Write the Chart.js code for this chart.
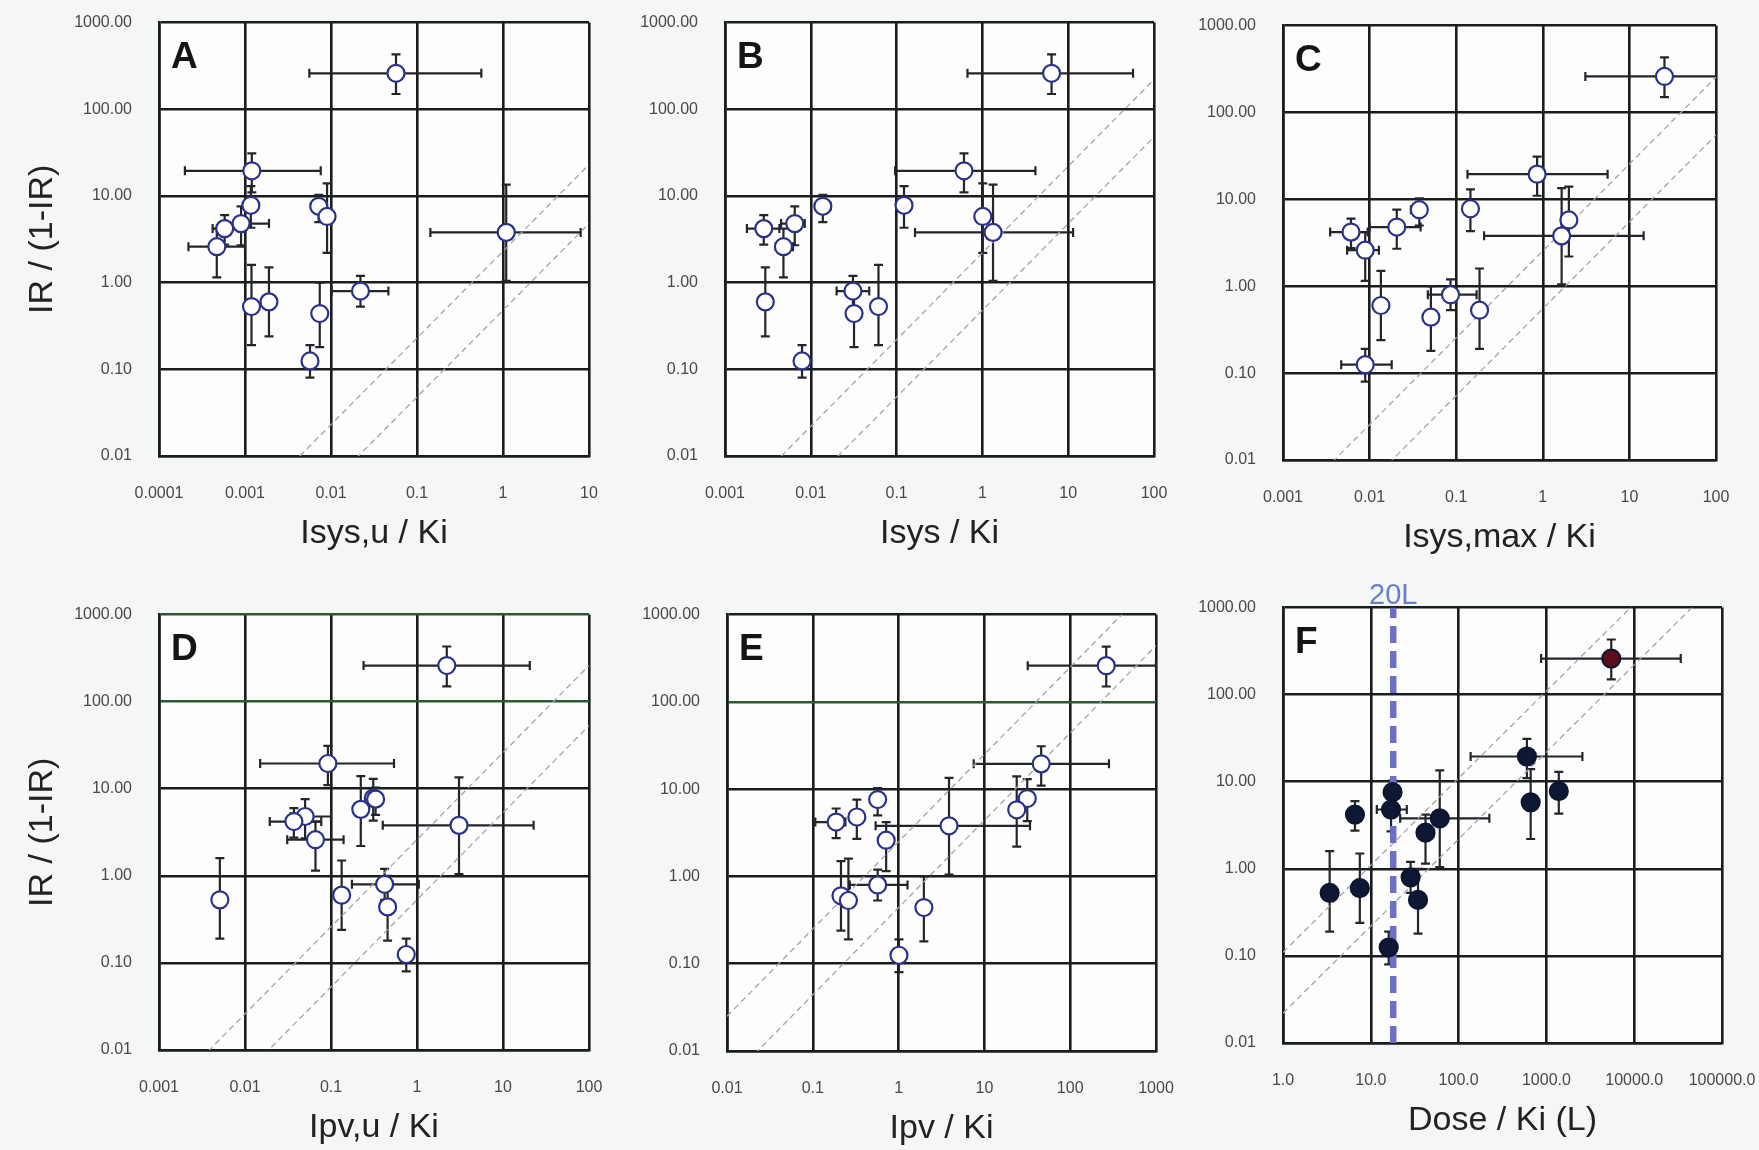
<!DOCTYPE html>
<html>
<head>
<meta charset="utf-8">
<script src="https://cdn.jsdelivr.net/npm/chart.js@4.4.1/dist/chart.umd.min.js"></script>
<style>
  html, body { margin: 0; padding: 0; background: #f5f6f6; }
  #page { position: relative; width: 1759px; height: 1150px; overflow: hidden; }
  .panel { position: absolute; }
</style>
</head>
<body>
<div id="page"></div>
<script>
// IR / (1-IR) for the 14 compounds, same in every panel
const irRatio = [260, 19.5, 7.8, 7.6, 5.8, 4.8, 4.2, 3.8, 2.6, 0.8, 0.6, 0.53, 0.44, 0.125];
const irLow   = [150, 11, 4.3, 5.0, 2.2, 2.7, 2.75, 1.05, 1.15, 0.53, 0.24, 0.19, 0.18, 0.08];
const irHigh  = [430, 31, 13, 10.3, 14, 7.6, 6.0, 13.5, 4.2, 1.2, 1.5, 1.6, 1.0, 0.19];

const yTickValues = [0.01, 0.1, 1, 10, 100, 1000];
const yTickLabels = ['0.01', '0.10', '1.00', '10.00', '100.00', '1000.00'];

const xTicksA = [0.0001, 0.001, 0.01, 0.1, 1, 10];
const xLabelsA = ['0.0001', '0.001', '0.01', '0.1', '1', '10'];
const xTicksBCD = [0.001, 0.01, 0.1, 1, 10, 100];
const xLabelsBCD = ['0.001', '0.01', '0.1', '1', '10', '100'];
const xTicksE = [0.01, 0.1, 1, 10, 100, 1000];
const xLabelsE = ['0.01', '0.1', '1', '10', '100', '1000'];
const xTicksF = [1, 10, 100, 1000, 10000, 100000];
const xLabelsF = ['1.0', '10.0', '100.0', '1000.0', '10000.0', '100000.0'];

// A: Isys,u / Ki
const xA     = [0.057, 0.0012, 0.00117, 0.0072, 0.009, 0.0009, 0.00058, 1.09, 0.00047, 0.022, 0.0019, 0.00119, 0.0074, 0.0057];
const xLowA  = [0.0056, 0.0002, null, null, null, 0.0006, 0.00042, 0.143, 0.00022, 0.0102, null, null, null, null];
const xHighA = [0.56, 0.0076, null, null, null, 0.0019, 0.00085, 8.0, 0.001, 0.0465, null, null, null, null];
// B: Isys / Ki
const xB     = [6.4, 0.61, 0.122, 0.0138, 1.01, 0.0065, 0.00283, 1.33, 0.0048, 0.031, 0.00295, 0.0615, 0.0319, 0.0079];
const xLowB  = [0.67, 0.096, null, 0.012, null, 0.0045, 0.0018, 0.164, 0.0039, 0.02, null, null, null, null];
const xHighB = [57, 4.15, null, 0.017, null, 0.0085, 0.0043, 11.4, 0.0062, 0.048, null, null, null, null];
// C: Isys,max / Ki
const xC     = [25.4, 0.86, 0.146, 0.0375, 2.0, 0.0206, 0.0061, 1.65, 0.0089, 0.086, 0.0135, 0.186, 0.051, 0.0089];
const xLowC  = [3.1, 0.135, null, 0.03, null, 0.01, 0.0035, 0.21, 0.0055, 0.047, null, null, null, 0.0047];
const xHighC = [100, 5.6, null, 0.045, null, 0.0388, 0.0095, 14.6, 0.0128, 0.172, null, null, null, 0.018];
// D: Ipv,u / Ki
const xD     = [2.22, 0.092, 0.31, 0.33, 0.222, 0.05, 0.037, 3.08, 0.066, 0.42, 0.133, 0.0051, 0.455, 0.75];
const xLowD  = [0.239, 0.015, null, null, null, 0.034, 0.0194, 0.4, 0.031, 0.175, null, null, null, null];
const xHighD = [20.5, 0.54, null, null, null, 0.1, 0.077, 22.7, 0.14, 1.05, null, null, null, null];
// E: Ipv / Ki
const xE     = [263, 45.9, 31.6, 0.57, 23.8, 0.326, 0.187, 3.87, 0.716, 0.57, 0.213, 0.26, 1.97, 1.01];
const xLowE  = [32, 7.5, null, null, null, null, 0.107, 0.54, null, 0.27, null, null, null, null];
const xHighE = [1000, 283, null, null, null, null, 0.24, 34, null, 1.27, null, null, null, null];
// F: Dose / Ki (L)
const xF     = [5480, 600, 1384, 17.7, 662, 17, 6.6, 61, 42, 28.4, 7.5, 3.4, 34.5, 16];
const xLowF  = [871, 137, null, null, null, 11.7, null, 21.6, null, null, null, null, null, null];
const xHighF = [33900, 2570, null, null, null, 25.7, null, 224, null, null, null, null, null, null];

// dashed "20L" marker, read where it is drawn on the dose axis
const doseLimit = 18;
const doseLimitLabel = '20L';

const FONT = '"Liberation Sans", Arial, Helvetica, sans-serif';
const Y_AXIS_W = 150, X_AXIS_H = 99, PAD_TOP = 36, PAD_RIGHT = 50;

const panels = [
  { letter: 'A', title: 'Isys,u / Ki', x: xA, xLow: xLowA, xHigh: xHighA, ticks: xTicksA, labels: xLabelsA,
    rect: [159, 22, 589, 456], yTitle: true, diag: [2.3, 0.48], green: [] },
  { letter: 'B', title: 'Isys / Ki', x: xB, xLow: xLowB, xHigh: xHighB, ticks: xTicksBCD, labels: xLabelsBCD,
    rect: [725, 22, 1154, 456], yTitle: false, diag: [2.2, 0.48], green: [] },
  { letter: 'C', title: 'Isys,max / Ki', x: xC, xLow: xLowC, xHigh: xHighC, ticks: xTicksBCD, labels: xLabelsBCD,
    rect: [1283, 25, 1716, 460], yTitle: false, diag: [2.55, 0.55], green: [] },
  { letter: 'D', title: 'Ipv,u / Ki', x: xD, xLow: xLowD, xHigh: xHighD, ticks: xTicksBCD, labels: xLabelsBCD,
    rect: [159, 614, 589, 1050], yTitle: true, diag: [2.6, 0.53], green: [100, 1000] },
  { letter: 'E', title: 'Ipv / Ki', x: xE, xLow: xLowE, xHigh: xHighE, ticks: xTicksE, labels: xLabelsE,
    rect: [727, 614, 1156, 1051], yTitle: false, diag: [2.5, 0.44], green: [100] },
  { letter: 'F', title: 'Dose / Ki (L)', x: xF, xLow: xLowF, xHigh: xHighF, ticks: xTicksF, labels: xLabelsF,
    rect: [1283, 607, 1722, 1043], yTitle: false, diag: [0.11, 0.022], green: [], filled: true, limit: doseLimit }
];

function buildPanel(p) {
  const w = (p.rect[2] - p.rect[0]) + Y_AXIS_W + PAD_RIGHT;
  const h = (p.rect[3] - p.rect[1]) + PAD_TOP + X_AXIS_H;
  const div = document.createElement('div');
  div.className = 'panel';
  div.style.left = (p.rect[0] - Y_AXIS_W) + 'px';
  div.style.top = (p.rect[1] - PAD_TOP) + 'px';
  div.style.width = w + 'px';
  div.style.height = h + 'px';
  const cv = document.createElement('canvas');
  cv.width = w; cv.height = h;
  cv.style.width = w + 'px'; cv.style.height = h + 'px';
  div.appendChild(cv);
  document.getElementById('page').appendChild(div);

  const xMin = p.ticks[0], xMax = p.ticks[p.ticks.length - 1];

  const datasets = [{
    label: 'compounds',
    data: p.x.map((v, i) => ({ x: v, y: irRatio[i] })),
    pointRadius: p.filled ? 9 : 8.5,
    pointBorderWidth: 2.2,
    pointBorderColor: p.filled ? '#0d1530' : '#2b3088',
    pointBackgroundColor: p.filled ? p.x.map((v, i) => i === 0 ? '#5c0d1e' : '#0e1733') : '#ffffff',
    showLine: false,
    order: 0
  }];
  p.diag.forEach(k => {
    datasets.push({
      label: 'fold ' + k,
      data: [{ x: xMin, y: k * xMin }, { x: xMax, y: k * xMax }],
      showLine: true, pointRadius: 0,
      borderColor: '#a2a4ad', borderWidth: 1.3, borderDash: [6, 4],
      order: 5
    });
  });
  if (p.limit) {
    datasets.push({
      label: doseLimitLabel,
      data: [{ x: p.limit, y: 0.01 }, { x: p.limit, y: 1000 }],
      showLine: true, pointRadius: 0,
      borderColor: '#6b70c4', borderWidth: 6.5, borderDash: [17, 8],
      order: 3
    });
  }

  const decor = {
    id: 'decor' + p.letter,
    beforeDraw(chart) {
      const a = chart.chartArea, ctx = chart.ctx;
      ctx.save();
      ctx.fillStyle = '#fdfdfd';
      ctx.fillRect(a.left, a.top, a.right - a.left, a.bottom - a.top);
      ctx.restore();
    },
    beforeDatasetsDraw(chart) {
      const a = chart.chartArea, ctx = chart.ctx;
      const xs = chart.scales.x, ys = chart.scales.y;
      const cap = 4.5;
      ctx.save();
      ctx.beginPath();
      ctx.rect(a.left - 1, a.top - 1, a.right - a.left + 2, a.bottom - a.top + 2);
      ctx.clip();
      ctx.strokeStyle = '#22262b';
      ctx.lineWidth = 2.2;
      p.x.forEach((v, i) => {
        const px = xs.getPixelForValue(v), py = ys.getPixelForValue(irRatio[i]);
        const yl = ys.getPixelForValue(irLow[i]), yh = ys.getPixelForValue(irHigh[i]);
        ctx.beginPath();
        ctx.moveTo(px, yl); ctx.lineTo(px, yh);
        ctx.moveTo(px - cap, yl); ctx.lineTo(px + cap, yl);
        ctx.moveTo(px - cap, yh); ctx.lineTo(px + cap, yh);
        if (p.xLow[i] != null) {
          const xl = xs.getPixelForValue(p.xLow[i]), xh = xs.getPixelForValue(p.xHigh[i]);
          ctx.moveTo(xl, py); ctx.lineTo(xh, py);
          ctx.moveTo(xl, py - cap); ctx.lineTo(xl, py + cap);
          ctx.moveTo(xh, py - cap); ctx.lineTo(xh, py + cap);
        }
        ctx.stroke();
      });
      ctx.restore();
    },
    afterDatasetsDraw(chart) {
      const a = chart.chartArea, ctx = chart.ctx;
      ctx.save();
      ctx.fillStyle = '#141414';
      ctx.font = 'bold 37px ' + FONT;
      ctx.textBaseline = 'alphabetic';
      ctx.textAlign = 'left';
      ctx.fillText(p.letter, a.left + 12, a.top + 45);
      if (p.limit) {
        ctx.fillStyle = '#6a80c2';
        ctx.font = '29px ' + FONT;
        ctx.textAlign = 'center';
        ctx.textBaseline = 'alphabetic';
        ctx.fillText(doseLimitLabel, chart.scales.x.getPixelForValue(p.limit), a.top - 4);
      }
      ctx.restore();
    }
  };

  const yGridColor = (c) => (c.tick && p.green.includes(c.tick.value)) ? '#2a5a33' : '#191d1b';

  new Chart(cv, {
    type: 'scatter',
    data: { datasets },
    options: {
      responsive: false,
      animation: false,
      layout: { padding: { left: 0, top: PAD_TOP, right: PAD_RIGHT, bottom: 0 } },
      plugins: { legend: { display: false }, tooltip: { enabled: false } },
      scales: {
        x: {
          type: 'logarithmic', min: xMin, max: xMax,
          afterBuildTicks: s => { s.ticks = p.ticks.map(v => ({ value: v })); },
          afterFit: s => { s.height = X_AXIS_H; s.paddingLeft = 0; s.paddingRight = 0; },
          ticks: {
            callback: (v, i) => p.labels[i],
            autoSkip: false, maxRotation: 0, padding: 28,
            font: { family: FONT, size: 16 }, color: '#484848'
          },
          grid: { color: '#191d1b', lineWidth: 2.6, drawTicks: false },
          border: { display: true, color: '#191d1b', width: 2.6 },
          title: {
            display: true, text: p.title, color: '#222222',
            font: { family: FONT, size: 34 }, padding: { top: 0, bottom: 1 }
          }
        },
        y: {
          type: 'logarithmic', min: 0.01, max: 1000,
          afterBuildTicks: s => { s.ticks = yTickValues.map(v => ({ value: v })); },
          afterFit: s => { s.width = Y_AXIS_W; },
          ticks: {
            callback: (v, i) => yTickLabels[i],
            autoSkip: false, padding: 27,
            font: { family: FONT, size: 16 }, color: '#484848'
          },
          grid: { color: yGridColor, lineWidth: 2.6, drawTicks: false },
          border: { display: true, color: '#191d1b', width: 2.6 },
          title: {
            display: p.yTitle, text: 'IR / (1-IR)', color: '#222222',
            font: { family: FONT, size: 34 }, padding: { top: 13, bottom: 0 }
          }
        }
      }
    },
    plugins: [decor]
  });
}

panels.forEach(buildPanel);
</script>
</body>
</html>
